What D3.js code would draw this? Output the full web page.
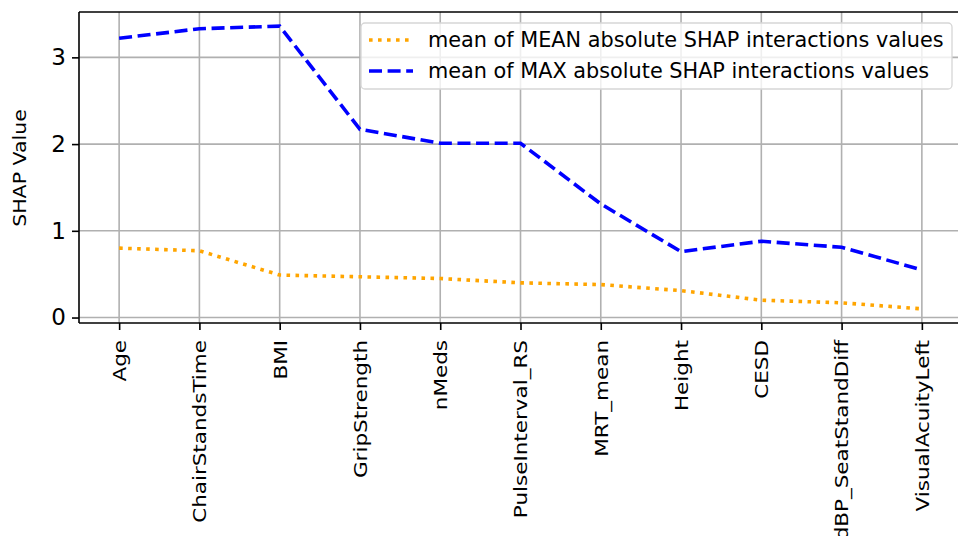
<!DOCTYPE html>
<html>
<head>
<meta charset="utf-8">
<script src="https://cdn.jsdelivr.net/npm/d3@7"></script>
<style>
	body { margin: 0; background: #fff; }
	text { font-family: "DejaVu Sans", sans-serif; fill: #000; }
</style>
</head>
<body>
<svg width="958" height="536"></svg>
<script>
var features = ["Age", "ChairStandsTime", "BMI", "GripStrength", "nMeds", "PulseInterval_RS",
	"MRT_mean", "Height", "CESD", "dBP_SeatStandDiff", "VisualAcuityLeft"];

var meanValues = [0.80, 0.77, 0.49, 0.47, 0.45, 0.40, 0.38, 0.31, 0.20, 0.17, 0.10];
var maxValues = [3.22, 3.33, 3.36, 2.17, 2.01, 2.01, 1.31, 0.76, 0.88, 0.81, 0.55];

var yTicks = [0, 1, 2, 3];

var seriesNames = ["mean of MEAN absolute SHAP interactions values",
	"mean of MAX absolute SHAP interactions values"];

var svg = d3.select("svg");

// plot box (right spine falls just outside the window, like the reference)
var plotLeft = 79, plotRight = 962, plotTop = 12, plotBottom = 323;

var x = d3.scaleLinear()
	.domain([-0.5, features.length - 0.5])
	.range([plotLeft, plotRight]);

var y = d3.scaleLinear()
	.domain([-0.063, 3.523])
	.range([plotBottom, plotTop]);

// grid
var grid = svg.append("g");
grid.selectAll(".vg")
	.data(features)
	.enter().append("line")
	.attr("x1", function(d, i) { return x(i); })
	.attr("x2", function(d, i) { return x(i); })
	.attr("y1", plotTop).attr("y2", plotBottom)
	.attr("stroke", "#b0b0b0").attr("stroke-width", 1.6);
grid.selectAll(".hg")
	.data(yTicks)
	.enter().append("line")
	.attr("x1", plotLeft).attr("x2", plotRight)
	.attr("y1", function(d) { return y(d); })
	.attr("y2", function(d) { return y(d); })
	.attr("stroke", "#b0b0b0").attr("stroke-width", 1.6);

// axes
var xAxis = svg.append("g")
	.attr("transform", "translate(0," + plotBottom + ")")
	.call(d3.axisBottom(x)
		.tickValues(d3.range(features.length))
		.tickFormat(function(i) { return features[i]; })
		.tickSize(7));
xAxis.select(".domain").remove();
xAxis.selectAll("line").attr("stroke-width", 1.6);
xAxis.selectAll("text")
	.attr("font-size", 21.5)
	.attr("transform", "rotate(-90) scale(1,0.84)")
	.attr("text-anchor", "end")
	.attr("x", -17)
	.attr("y", 0)
	.attr("dy", "0.35em");

var yAxis = svg.append("g")
	.attr("transform", "translate(" + plotLeft + ",0)")
	.call(d3.axisLeft(y).tickValues(yTicks).tickFormat(d3.format("d")).tickSize(7).tickPadding(6));
yAxis.select(".domain").remove();
yAxis.selectAll("line").attr("stroke-width", 1.6);
yAxis.selectAll("text").attr("font-size", 23);

svg.append("text")
	.attr("transform", "translate(26,168) rotate(-90) scale(1,0.86)")
	.attr("text-anchor", "middle")
	.attr("font-size", 20.5)
	.text("SHAP Value");

// lines
var line = d3.line()
	.x(function(d, i) { return x(i); })
	.y(function(d) { return y(d); });

var styles = [
	{ color: "orange", dash: "3.6,5.4" },
	{ color: "blue", dash: "13,5.6" }
];

svg.append("path")
	.datum(meanValues)
	.attr("d", line)
	.attr("fill", "none")
	.attr("stroke", styles[0].color)
	.attr("stroke-width", 3.6)
	.attr("stroke-dasharray", styles[0].dash);

svg.append("path")
	.datum(maxValues)
	.attr("d", line)
	.attr("fill", "none")
	.attr("stroke", styles[1].color)
	.attr("stroke-width", 3.6)
	.attr("stroke-dasharray", styles[1].dash);

// spines
var spines = [
	[plotLeft, plotTop, plotLeft, plotBottom],
	[plotLeft, plotBottom, plotRight, plotBottom],
	[plotLeft, plotTop, plotRight, plotTop],
	[plotRight, plotTop, plotRight, plotBottom]
];
svg.selectAll(".spine")
	.data(spines)
	.enter().append("line")
	.attr("x1", function(d) { return d[0]; })
	.attr("y1", function(d) { return d[1]; })
	.attr("x2", function(d) { return d[2]; })
	.attr("y2", function(d) { return d[3]; })
	.attr("stroke", "#000").attr("stroke-width", 1.6);

// legend
var legend = svg.append("g").attr("transform", "translate(361,23)");
legend.append("rect")
	.attr("width", 591).attr("height", 66)
	.attr("rx", 4)
	.attr("fill", "#fff").attr("fill-opacity", 0.8)
	.attr("stroke", "#d6d6d6").attr("stroke-width", 1.3);

var items = legend.selectAll(".item")
	.data(seriesNames)
	.enter().append("g")
	.attr("transform", function(d, i) { return "translate(0," + (17 + i * 31) + ")"; });

items.append("line")
	.attr("x1", 8).attr("x2", 52)
	.attr("stroke", function(d, i) { return styles[i].color; })
	.attr("stroke-width", 3.6)
	.attr("stroke-dasharray", function(d, i) { return styles[i].dash; });

items.append("text")
	.attr("x", 67)
	.attr("dy", "0.35em")
	.attr("font-size", 20.8)
	.text(function(d) { return d; });
</script>
</body>
</html>
